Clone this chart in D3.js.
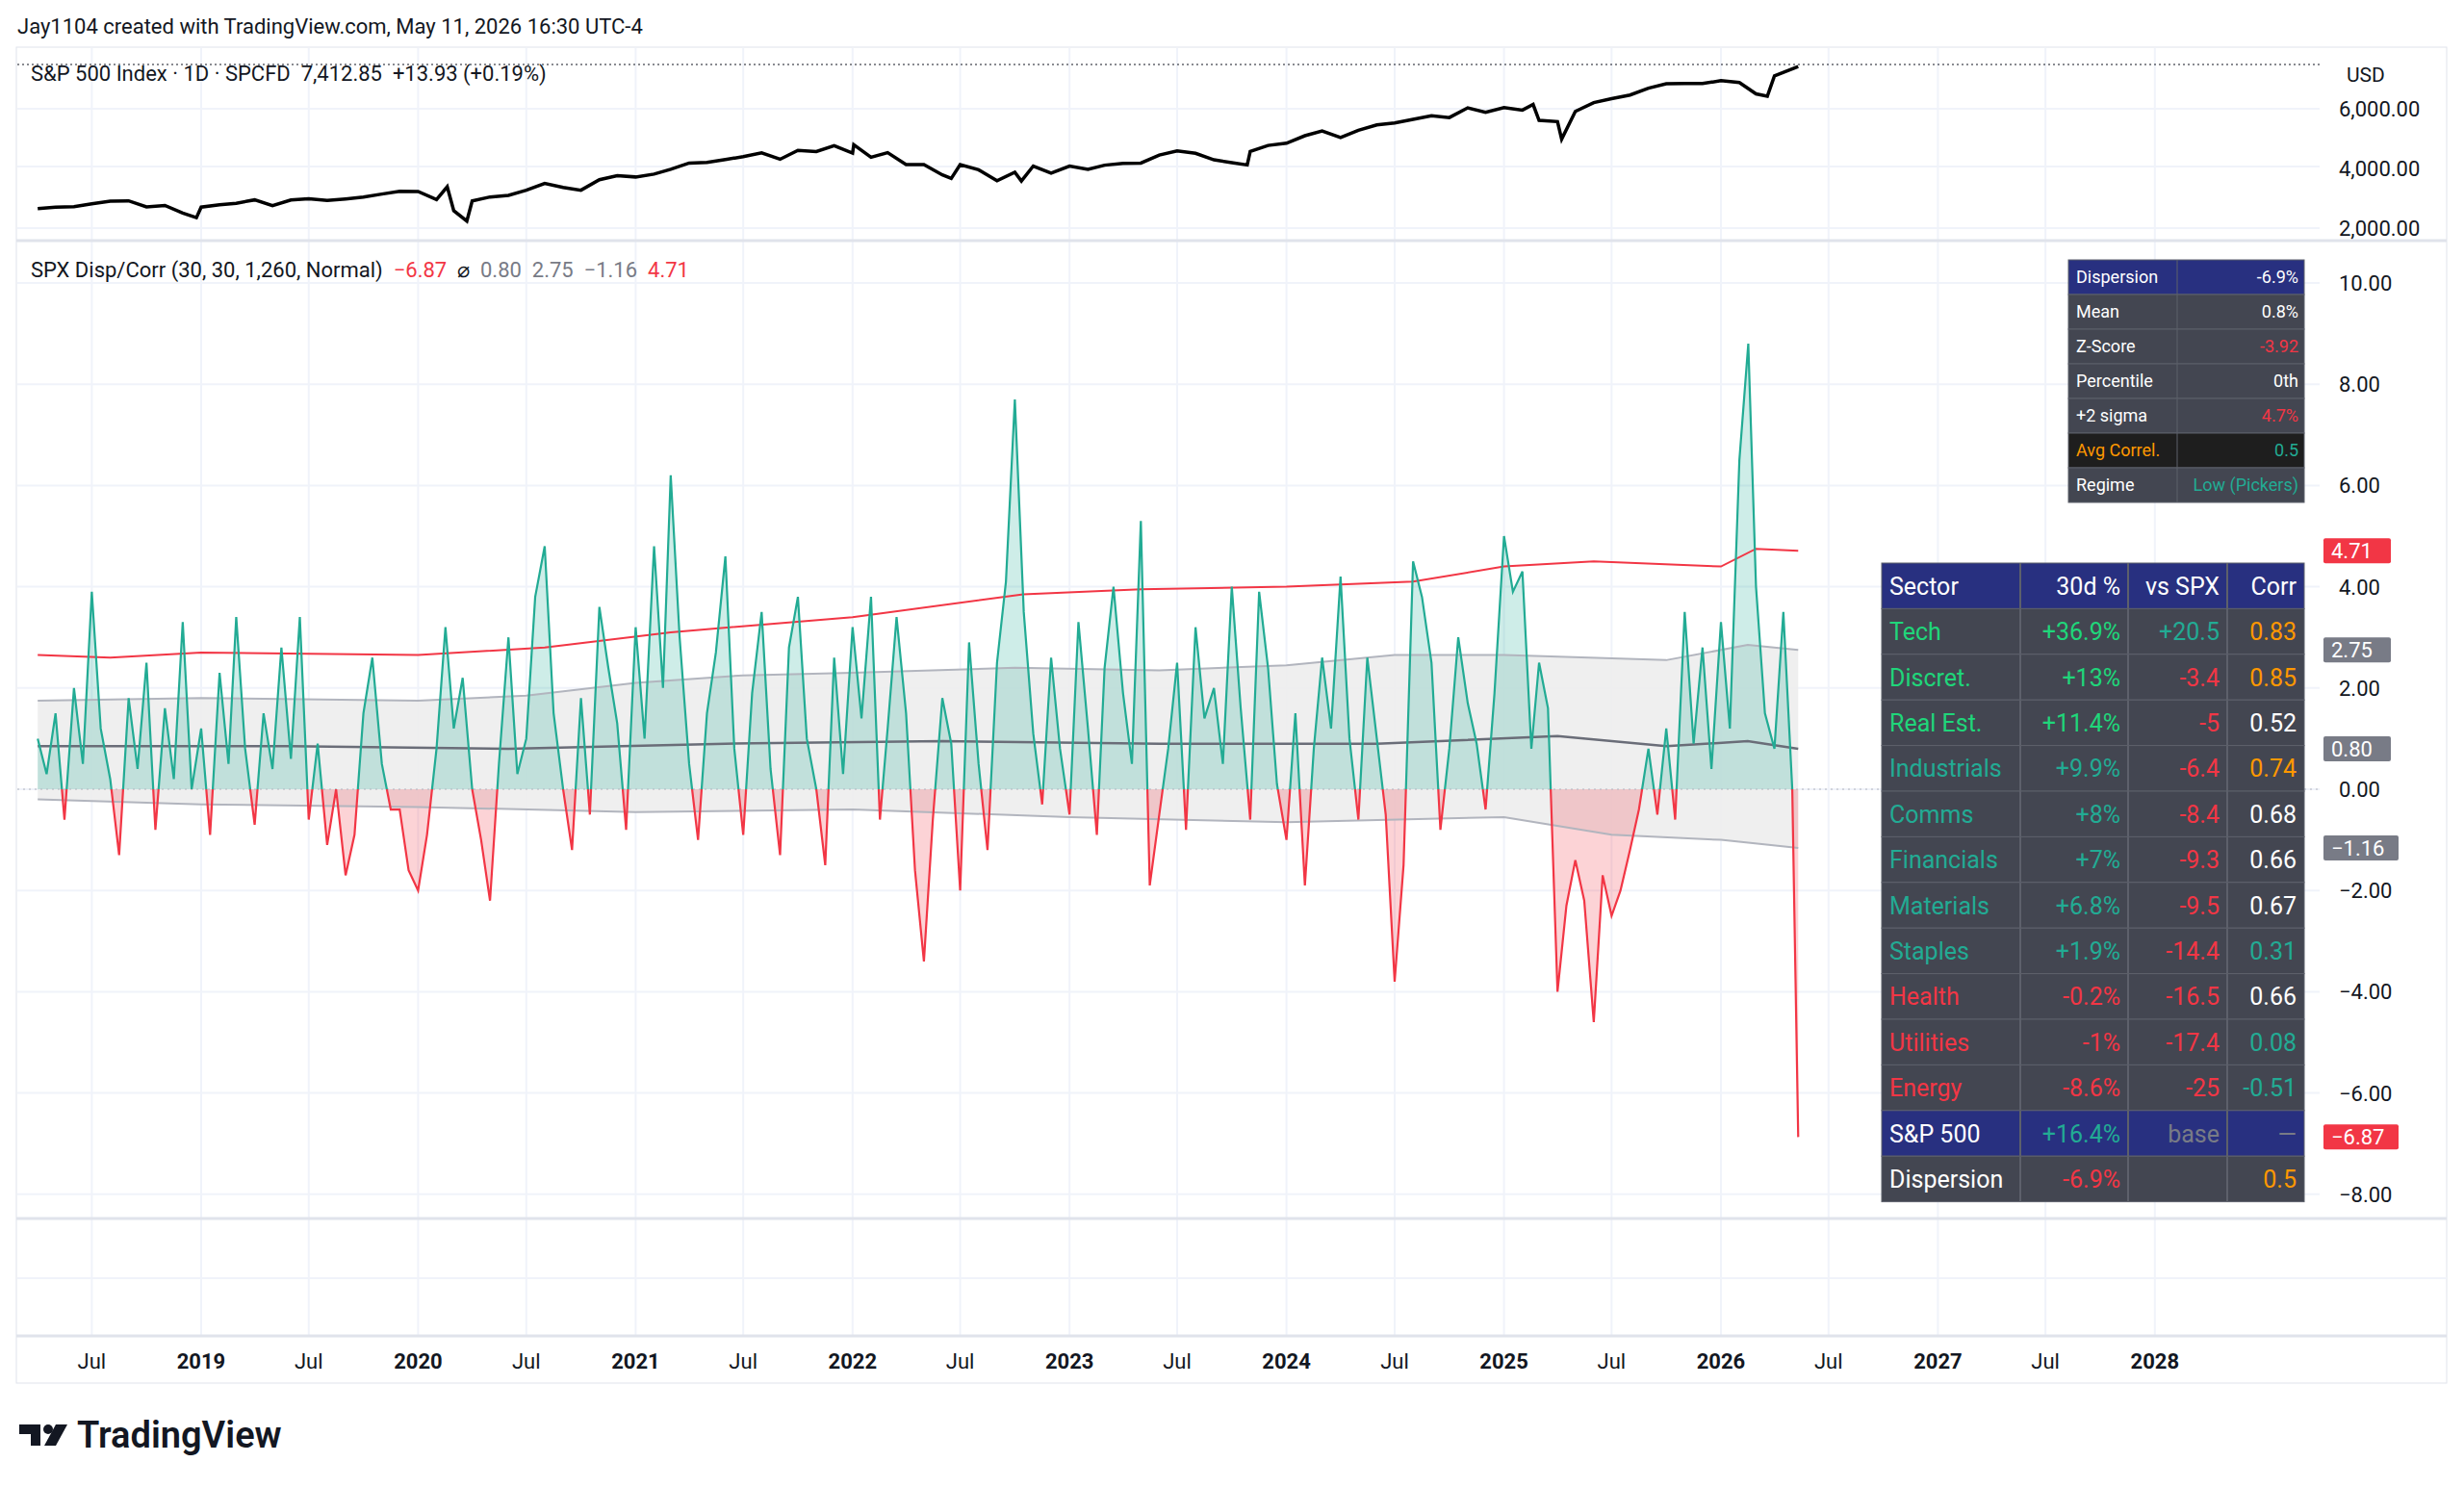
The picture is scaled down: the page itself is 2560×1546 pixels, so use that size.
<!DOCTYPE html>
<html>
<head>
<meta charset="utf-8">
<script src="https://cdn.jsdelivr.net/npm/d3@7"></script>
<style>
  body { margin: 0; background: #fff; font-family: Roboto, "Noto Sans", sans-serif; }
  svg text { font-family: Roboto, "Noto Sans", sans-serif; }
</style>
</head>
<body>
<svg id="chart" width="2560" height="1546"></svg>
<script>
// ---- data ----
var spxMonthly = [
  2650, 2705, 2718, 2816, 2901, 2914, 2711, 2760, 2507,
  2704, 2784, 2834, 2946, 2752, 2942, 2980, 2926, 2977, 3038, 3141, 3231,
  3226, 2954, 2585, 2912, 3044, 3100, 3271, 3500, 3363, 3270, 3622, 3756,
  3714, 3811, 3973, 4181, 4204, 4298, 4395, 4523, 4308, 4605, 4567, 4766,
  4516, 4374, 4530, 4132, 4132, 3785, 4130, 3955, 3586, 3872, 4080, 3840,
  4077, 3970, 4109, 4169, 4180, 4450, 4589, 4508, 4288, 4194, 4568, 4770,
  4846, 5096, 5254, 5036, 5278, 5460, 5522, 5648, 5762, 5705, 6032, 5882,
  6040, 5955, 5612, 5569, 5912, 6205, 6339, 6460, 6688, 6840, 6849, 6845,
  6940, 6880, 6500, 7100
];
var spxExtra = [
  ["2018-12-24", 2351], ["2020-02-19", 3386], ["2020-03-23", 2237],
  ["2022-01-03", 4796], ["2022-06-16", 3666], ["2022-10-12", 3577],
  ["2023-10-27", 4117], ["2025-02-19", 6144], ["2025-04-08", 4982],
  ["2026-03-20", 6420], ["2026-05-11", 7412.85]
];

// dispersion, two readings per month (1st and 16th) from Apr 2018
var dispValues = [
  1.0, 0.3, 1.5, -0.6, 2.0, 0.5, 3.9, 1.2, 0.2, -1.3, 1.8, 0.4, 2.5, -0.8, 1.6, 0.2, 3.3, 0.0,
  1.2, -0.9, 2.3, 0.5, 3.4, 0.8, -0.7, 1.5, 0.4, 2.8, 0.6, 3.4, -0.6, 0.9, -1.1, 0.0, -1.7, -0.9, 1.5, 2.6, 0.5, -0.4, -0.4, -1.6,
  -2.0, -0.9, 0.8, 3.2, 1.2, 2.2, 0.0, -1.0, -2.2, 0.5, 3.0, 0.3, 1.0, 3.8, 4.8, 1.5, 0.0, -1.2, 1.8, -0.5, 3.6, 2.4, 1.3, -0.8,
  3.2, 1.0, 4.8, 2.0, 6.2, 3.0, 0.5, -1.0, 1.5, 2.7, 4.6, 0.8, -0.9, 1.9, 3.5, 0.4, -1.3, 2.8, 3.8, 1.0, 0.0, -1.5, 2.6, 0.3,
  3.2, 1.4, 3.8, -0.6, 1.2, 3.4, 1.5, -1.6, -3.4, -0.6, 1.8, 0.9, -2.0, 2.9, 0.5, -1.2, 2.5, 4.1, 7.7, 3.5, 1.1, -0.3, 2.6, 0.8,
  -0.5, 3.3, 1.2, -0.9, 2.4, 4.0, 1.9, 0.5, 5.3, -1.9, -0.5, 0.8, 2.5, -0.8, 3.2, 1.4, 2.0, 0.5, 4.0, 1.6, -0.6, 3.9, 2.4, 0.1,
  -1.0, 1.5, -1.9, 0.8, 2.6, 1.2, 4.2, 1.0, -0.6, 2.6, 1.0, -0.5, -3.8, -1.5, 4.5, 3.8, 2.5, -0.8, 0.8, 3.0, 1.7, 0.9, -0.4, 1.9,
  5.0, 3.9, 4.3, 0.8, 2.5, 1.6, -4.0, -2.3, -1.4, -2.2, -4.6, -1.7, -2.5, -2.0, -1.2, -0.4, 0.8, -0.5, 1.2, -0.6, 3.5, 0.9, 2.8, 0.4,
  3.3, 1.2, 6.5, 8.8, 4.0, 1.5, 0.8, 3.5, 0.0
];
var dispLast = ["2026-05-11", -6.87];

var bandUpper = [["2018-04-01",1.75],["2019-01-01",1.8],["2020-01-01",1.75],["2020-07-01",1.85],["2021-01-01",2.1],["2021-07-01",2.25],["2022-01-01",2.3],["2022-10-01",2.4],["2023-06-01",2.35],["2024-01-01",2.45],["2024-07-01",2.65],["2025-01-01",2.65],["2025-10-01",2.55],["2026-02-15",2.85],["2026-05-11",2.75]];
var bandMean = [["2018-04-01",0.85],["2019-06-01",0.85],["2020-06-01",0.8],["2021-06-01",0.9],["2022-06-01",0.95],["2023-06-01",0.9],["2024-06-01",0.9],["2025-04-01",1.05],["2025-10-01",0.85],["2026-02-15",0.95],["2026-05-11",0.8]];
var bandLower = [["2018-04-01",-0.2],["2019-01-01",-0.3],["2020-01-01",-0.35],["2021-01-01",-0.45],["2022-01-01",-0.4],["2023-01-01",-0.55],["2024-01-01",-0.65],["2025-01-01",-0.55],["2025-07-01",-0.9],["2026-01-01",-1.0],["2026-05-11",-1.16]];
var sigmaLine = [["2018-04-01",2.65],["2018-08-01",2.6],["2019-01-01",2.7],["2020-01-01",2.65],["2020-08-01",2.8],["2021-03-01",3.1],["2022-01-01",3.4],["2022-10-15",3.85],["2023-05-01",3.95],["2024-01-01",4.0],["2024-08-01",4.1],["2025-01-01",4.4],["2025-06-01",4.5],["2026-01-01",4.4],["2026-03-01",4.75],["2026-05-11",4.71]];

var statRows = ["Dispersion", "Mean", "Z-Score", "Percentile", "+2 sigma", "Avg Correl.", "Regime"];
var statVals = ["-6.9%", "0.8%", "-3.92", "0th", "4.7%", "0.5", "Low (Pickers)"];

var sectors = ["Tech", "Discret.", "Real Est.", "Industrials", "Comms", "Financials", "Materials", "Staples", "Health", "Utilities", "Energy"];
var sectorRet = ["+36.9%", "+13%", "+11.4%", "+9.9%", "+8%", "+7%", "+6.8%", "+1.9%", "-0.2%", "-1%", "-8.6%"];
var sectorVsSpx = ["+20.5", "-3.4", "-5", "-6.4", "-8.4", "-9.3", "-9.5", "-14.4", "-16.5", "-17.4", "-25"];
var sectorCorr = ["0.83", "0.85", "0.52", "0.74", "0.68", "0.66", "0.67", "0.31", "0.66", "0.08", "-0.51"];

var dispTicks = [10, 8, 6, 4, 2, 0, -2, -4, -6, -8];
var spxTicks = [6000, 4000, 2000];

// ---- setup ----
var parse = d3.timeParse("%Y-%m-%d");
var svg = d3.select("#chart");
var TEAL = "#22ab94", RED = "#f23645", GREEN = "#1fd67a", ORANGE = "#ff9800", GRAY = "#787b86";
var L = 18, R = 2410;

var x = d3.scaleTime().domain([parse("2019-01-01"), parse("2026-01-01")]).range([209, 1788]);
var yS = d3.scaleLinear().domain([2000, 6000]).range([237, 113]);
var yD = d3.scaleLinear().domain([0, 10]).range([820, 294]);

var spx = spxMonthly.map(function(v, i) { return { d: d3.timeMonth.offset(parse("2018-04-01"), i), v: v }; })
  .concat(spxExtra.map(function(p) { return { d: parse(p[0]), v: p[1] }; }))
  .sort(function(a, b) { return a.d - b.d; });
var disp = dispValues.map(function(v, i) {
  var m = d3.timeMonth.offset(parse("2018-04-01"), Math.floor(i / 2));
  return { d: i % 2 ? d3.timeDay.offset(m, 15) : m, v: v };
});
disp.push({ d: parse(dispLast[0]), v: dispLast[1] });
var toPts = function(arr) { return arr.map(function(p) { return { d: parse(p[0]), v: p[1] }; }); };

// frame
svg.append("text").attr("x", 18).attr("y", 35).attr("font-size", 22).attr("fill", "#131722")
  .text("Jay1104 created with TradingView.com, May 11, 2026 16:30 UTC-4");
svg.append("rect").attr("x", 17).attr("y", 49).attr("width", 2525).attr("height", 1388)
  .attr("fill", "none").attr("stroke", "#e0e3eb");

var defs = svg.append("defs");
defs.append("clipPath").attr("id", "topClip").append("rect").attr("x", L).attr("y", 50).attr("width", R - L).attr("height", 198);
defs.append("clipPath").attr("id", "botClip").append("rect").attr("x", L).attr("y", 254).attr("width", R - L).attr("height", 1012);
defs.append("clipPath").attr("id", "aboveZero").append("rect").attr("x", L).attr("y", 254).attr("width", R - L).attr("height", yD(0) - 254);
defs.append("clipPath").attr("id", "belowZero").append("rect").attr("x", L).attr("y", yD(0)).attr("width", R - L).attr("height", 1266 - yD(0));

// vertical grid + time labels
var tickDates = [];
for (var yr = 2018; yr <= 2028; yr++) {
  if (yr > 2018) tickDates.push({ d: new Date(yr, 0, 1), t: String(yr), b: true });
  if (yr < 2028) tickDates.push({ d: new Date(yr, 6, 1), t: "Jul", b: false });
}
var grid = svg.append("g");
tickDates.forEach(function(t) {
  var px = x(t.d);
  if (px < L || px > R) return;
  grid.append("line").attr("x1", px).attr("x2", px).attr("y1", 50).attr("y2", 1388).attr("stroke", "#f0f3fa").attr("stroke-width", 2);
  svg.append("text").attr("x", px).attr("y", 1422).attr("text-anchor", "middle").attr("font-size", 22)
    .attr("font-weight", t.b ? 700 : 400).attr("fill", "#131722").text(t.t);
});
[113, 173, 237].forEach(function(py) {
  grid.append("line").attr("x1", L).attr("x2", R).attr("y1", py).attr("y2", py).attr("stroke", "#f0f3fa").attr("stroke-width", 2);
});
dispTicks.forEach(function(v) {
  grid.append("line").attr("x1", L).attr("x2", R).attr("y1", yD(v)).attr("y2", yD(v)).attr("stroke", "#f0f3fa").attr("stroke-width", 2);
});
grid.append("line").attr("x1", L).attr("x2", 2542).attr("y1", 1328).attr("y2", 1328).attr("stroke", "#f0f3fa").attr("stroke-width", 2);
// pane separators
[250, 1266, 1388].forEach(function(py) {
  svg.append("line").attr("x1", 17).attr("x2", 2542).attr("y1", py).attr("y2", py).attr("stroke", "#e0e3eb").attr("stroke-width", 3);
});

// ---- top pane: S&P 500 ----
var topPane = svg.append("g").attr("clip-path", "url(#topClip)");
topPane.append("path").datum(spx).attr("fill", "none").attr("stroke", "#000").attr("stroke-width", 3.5)
  .attr("d", d3.line().x(function(p) { return x(p.d); }).y(function(p) { return yS(p.v); }));
svg.append("line").attr("x1", L).attr("x2", R).attr("y1", 67).attr("y2", 67)
  .attr("stroke", "#131722").attr("stroke-dasharray", "2,3");
svg.append("text").attr("x", 32).attr("y", 84).attr("font-size", 22).attr("fill", "#131722")
  .attr("xml:space", "preserve")
  .text("S&P 500 Index · 1D · SPCFD  7,412.85  +13.93 (+0.19%)");
svg.append("text").attr("x", 2438).attr("y", 85).attr("font-size", 21).attr("fill", "#131722").text("USD");
spxTicks.forEach(function(v) {
  svg.append("text").attr("x", 2430).attr("y", yS(v) + 8).attr("font-size", 22).attr("fill", "#131722")
    .text(d3.format(",.2f")(v));
});

// ---- bottom pane: dispersion ----
var bot = svg.append("g").attr("clip-path", "url(#botClip)");
var up = toPts(bandUpper), lo = toPts(bandLower);
var bandPoly = up.map(function(p) { return [x(p.d), yD(p.v)]; })
  .concat(lo.slice().reverse().map(function(p) { return [x(p.d), yD(p.v)]; }));
bot.append("path").attr("d", d3.line()(bandPoly) + "Z").attr("fill", "#ededed").attr("opacity", 0.9);

var area0 = d3.area().x(function(p) { return x(p.d); }).y0(yD(0)).y1(function(p) { return yD(p.v); });
bot.append("path").datum(disp).attr("d", area0).attr("fill", TEAL).attr("opacity", 0.22).attr("clip-path", "url(#aboveZero)");
bot.append("path").datum(disp).attr("d", area0).attr("fill", RED).attr("opacity", 0.22).attr("clip-path", "url(#belowZero)");

var ln = d3.line().x(function(p) { return x(p.d); }).y(function(p) { return yD(p.v); });
bot.append("path").datum(up).attr("d", ln).attr("fill", "none").attr("stroke", "#b2b5be").attr("stroke-width", 2);
bot.append("path").datum(lo).attr("d", ln).attr("fill", "none").attr("stroke", "#b2b5be").attr("stroke-width", 2);
bot.append("path").datum(toPts(bandMean)).attr("d", ln).attr("fill", "none").attr("stroke", "#6a6d78").attr("stroke-width", 2.5);
bot.append("path").datum(toPts(sigmaLine)).attr("d", ln).attr("fill", "none").attr("stroke", RED).attr("stroke-width", 2);
bot.append("line").attr("x1", L).attr("x2", R).attr("y1", yD(0)).attr("y2", yD(0))
  .attr("stroke", "#b2b5be").attr("stroke-dasharray", "2,4");
bot.append("path").datum(disp).attr("d", ln).attr("fill", "none").attr("stroke", TEAL).attr("stroke-width", 2.2).attr("clip-path", "url(#aboveZero)");
bot.append("path").datum(disp).attr("d", ln).attr("fill", "none").attr("stroke", RED).attr("stroke-width", 2.2).attr("clip-path", "url(#belowZero)");

// legend
var lg = svg.append("text").attr("x", 32).attr("y", 288).attr("font-size", 22).attr("fill", "#131722").attr("xml:space", "preserve");
lg.append("tspan").text("SPX Disp/Corr (30, 30, 1,260, Normal)  ");
lg.append("tspan").attr("fill", RED).text("\u22126.87  ");
lg.append("tspan").text("\u2300  ");
lg.append("tspan").attr("fill", GRAY).text("0.80  2.75  \u22121.16  ");
lg.append("tspan").attr("fill", RED).text("4.71");

// y axis
dispTicks.forEach(function(v) {
  svg.append("text").attr("x", 2430).attr("y", yD(v) + 8).attr("font-size", 22).attr("fill", "#131722")
    .text(v < 0 ? "\u2212" + d3.format(".2f")(-v) : d3.format(".2f")(v));
});
var badges = [[4.71, "4.71", RED, 70], [2.75, "2.75", GRAY, 70], [0.80, "0.80", GRAY, 70], [-1.16, "\u22121.16", GRAY, 78], [-6.87, "\u22126.87", RED, 78]];
badges.forEach(function(b) {
  var py = yD(b[0]);
  svg.append("rect").attr("x", 2414).attr("y", py - 13).attr("width", b[3]).attr("height", 26).attr("rx", 2).attr("fill", b[2]);
  svg.append("text").attr("x", 2422).attr("y", py + 8).attr("font-size", 22).attr("fill", "#fff").text(b[1]);
});

// ---- stats table ----
var st = svg.append("g").attr("font-size", 18);
statRows.forEach(function(name, i) {
  var ty = 270 + i * 36;
  var bg = i === 0 ? "#283080" : (i === 5 ? "#1e1e1e" : "#434651");
  st.append("rect").attr("x", 2149).attr("y", ty).attr("width", 245).attr("height", 36).attr("fill", bg).attr("stroke", "#5d606b");
  st.append("line").attr("x1", 2262).attr("x2", 2262).attr("y1", ty).attr("y2", ty + 36).attr("stroke", "#5d606b");
  st.append("text").attr("x", 2157).attr("y", ty + 24).attr("fill", i === 5 ? ORANGE : "#fff").text(name);
  var vc = [null, null, RED, null, RED, TEAL, TEAL][i] || "#fff";
  st.append("text").attr("x", 2388).attr("y", ty + 24).attr("text-anchor", "end").attr("fill", vc).text(statVals[i]);
});

// ---- sector table ----
var cx = [1955, 2099, 2211, 2314, 2394], rh = 47.4, t0 = 585;
var tb = svg.append("g").attr("font-size", 25);
var drawRow = function(r, bg, cells) {
  var ty = t0 + r * rh;
  tb.append("rect").attr("x", cx[0]).attr("y", ty).attr("width", cx[4] - cx[0]).attr("height", rh).attr("fill", bg).attr("stroke", "#5d606b");
  [1, 2, 3].forEach(function(k) {
    tb.append("line").attr("x1", cx[k]).attr("x2", cx[k]).attr("y1", ty).attr("y2", ty + rh).attr("stroke", "#5d606b").attr("stroke-width", 2);
  });
  cells.forEach(function(c, k) {
    if (!c[0]) return;
    tb.append("text").attr("x", k === 0 ? cx[0] + 8 : cx[k + 1] - 8).attr("y", ty + rh / 2 + 9)
      .attr("text-anchor", k === 0 ? "start" : "end").attr("fill", c[1]).text(c[0]);
  });
};
drawRow(0, "#283080", [["Sector", "#fff"], ["30d %", "#fff"], ["vs SPX", "#fff"], ["Corr", "#fff"]]);
var colFor = function(s) { return s.charAt(0) === "-" ? RED : null; };
sectors.forEach(function(s, i) {
  var nameCol = i < 3 ? GREEN : (i < 8 ? TEAL : RED);
  var corr = +sectorCorr[i];
  var corrCol = corr >= 0.7 ? ORANGE : (corr < 0.5 ? TEAL : "#fff");
  drawRow(i + 1, "#434651", [
    [s, nameCol],
    [sectorRet[i], nameCol],
    [sectorVsSpx[i], colFor(sectorVsSpx[i]) || TEAL],
    [sectorCorr[i], corrCol]
  ]);
});
drawRow(12, "#283080", [["S&P 500", "#fff"], ["+16.4%", TEAL], ["base", GRAY], ["\u2014", GRAY]]);
drawRow(13, "#434651", [["Dispersion", "#fff"], ["-6.9%", RED], ["", "#fff"], ["0.5", ORANGE]]);

// ---- logo ----
var logo = svg.append("g").attr("fill", "#131722");
logo.append("path").attr("d", "M20 1480 h22 v22 h-10 v-12 h-12 z");
logo.append("circle").attr("cx", 50).attr("cy", 1485).attr("r", 5);
logo.append("path").attr("d", "M58 1480 h12 l-12 22 h-12 z");
logo.append("text").attr("x", 80).attr("y", 1504).attr("font-size", 38).attr("font-weight", 600).text("TradingView");
</script>
</body>
</html>
